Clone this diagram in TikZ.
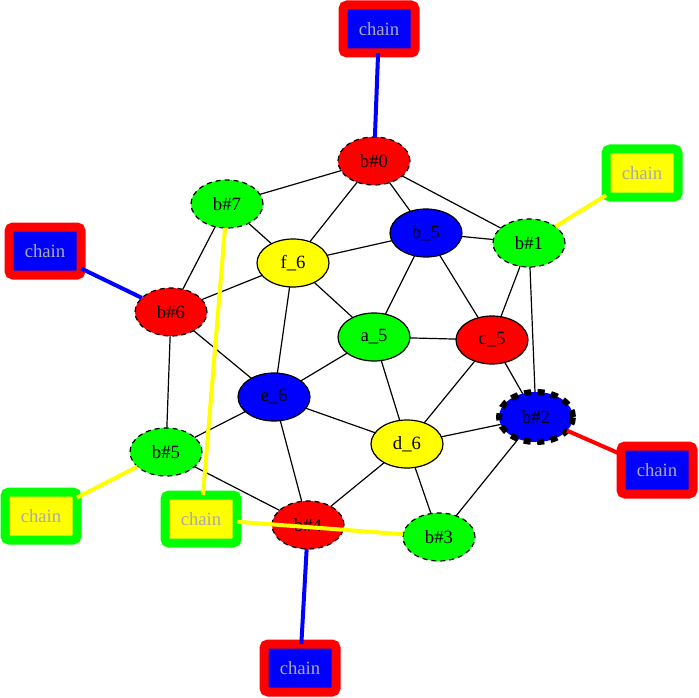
\documentclass[tikz,border=0pt]{standalone}
\usepackage{fontspec}
\setmainfont{Liberation Serif}
\usetikzlibrary{shapes.geometric}
\definecolor{cred}{RGB}{255,0,0}
\definecolor{cgreen}{RGB}{0,255,0}
\definecolor{cblue}{RGB}{0,0,255}
\definecolor{cyellow}{RGB}{255,255,0}
\definecolor{cgray}{RGB}{170,170,170}
\tikzset{
  gnode/.style={ellipse, draw=black, line width=1.2pt, minimum width=72pt, minimum height=48pt, inner sep=0pt, outer sep=0pt, font=\fontsize{18.7}{22}\selectfont},
  bnode/.style={gnode, dash pattern=on 5pt off 4pt},
  chainrb/.style={rectangle, rounded corners=4pt, draw=cred, fill=cblue, line width=9pt, minimum width=72pt, minimum height=48pt, inner sep=0pt, outer sep=0pt, text=cgray, font=\fontsize{18.7}{22}\selectfont},
  chaingy/.style={chainrb, draw=cgreen, fill=cyellow},
  edge/.style={black, line width=1.2pt},
  cedge/.style={line width=4pt},
}
\begin{document}
\begin{tikzpicture}[x=1pt,y=-1pt]
\useasboundingbox (0,0) rectangle (699,698);
% nodes
\node[bnode, fill=cred] (b0) at (374,161) {b\#0};
\node[bnode, fill=cgreen] (b1) at (529,243) {b\#1};
\node[gnode, fill=cblue, line width=6pt, dash pattern=on 7pt off 6.5pt, minimum width=74pt, minimum height=50pt] (b2) at (536,417) {b\#2};
\node[bnode, fill=cgreen] (b3) at (439,537) {b\#3};
\node[bnode, fill=cred] (b4) at (308,525) {b\#4};
\node[bnode, fill=cgreen] (b5) at (166,452) {b\#5};
\node[bnode, fill=cred] (b6) at (171,312) {b\#6};
\node[bnode, fill=cgreen] (b7) at (227,204) {b\#7};
\node[gnode, fill=cgreen] (a5) at (374,337) {a\_5};
\node[gnode, fill=cblue] (b5n) at (426,233) {b\_5};
\node[gnode, fill=cred] (c5) at (492,340) {c\_5};
\node[gnode, fill=cyellow] (d6) at (407,444) {d\_6};
\node[gnode, fill=cblue] (e6) at (274,397) {e\_6};
\node[gnode, fill=cyellow] (f6) at (293,263) {f\_6};
% chain boxes
\node[chainrb] (ch0) at (379,29) {chain};
\node[chaingy] (ch1) at (642,173) {chain};
\node[chainrb] (ch6) at (45,251) {chain};
\node[chainrb] (ch2) at (657,470) {chain};
\node[chaingy] (ch5) at (41,516) {chain};
\node[chaingy] (ch7) at (201,519) {chain};
\node[chainrb] (ch4) at (300,668) {chain};
% black edges
\foreach \a/\b in {b0/b7,b0/f6,b0/b5n,b0/b1,b5n/f6,b5n/b1,b5n/a5,b5n/c5,b1/c5,b1/b2,c5/a5,c5/b2,c5/d6,b2/d6,b2/b3,d6/a5,d6/e6,d6/b3,d6/b4,e6/a5,e6/f6,e6/b6,e6/b5,e6/b4,f6/a5,f6/b6,f6/b7,b7/b6,b6/b5,b5/b4}
  \draw[edge] (\a) -- (\b);
% chain edges
\draw[cedge, cblue] (ch0) -- (b0);
\draw[cedge, cyellow] (ch1) -- (b1);
\draw[cedge, cblue] (ch6) -- (b6);
\draw[cedge, cred] (ch2) -- (b2);
\draw[cedge, cyellow] (ch5) -- (b5);
\draw[cedge, cyellow] (b7) -- (ch7);
\draw[cedge, cyellow] (ch7) -- (b3);
\draw[cedge, cblue] (ch4) -- (b4);
\end{tikzpicture}
\end{document}
